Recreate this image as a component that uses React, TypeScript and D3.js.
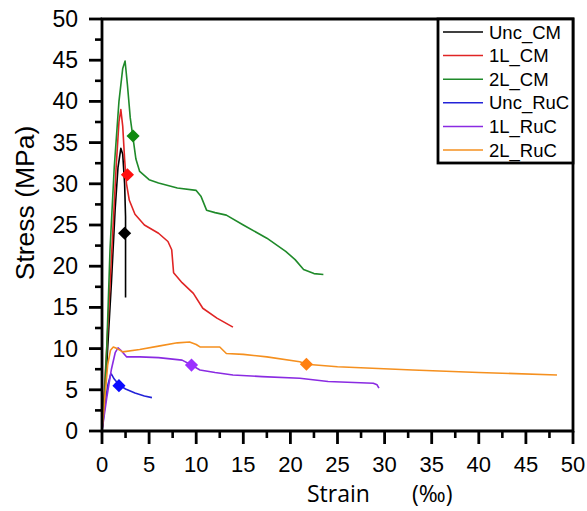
import React from "react";
import * as d3 from "d3";

const width = 587;
const height = 511;
const margin = { top: 19, right: 14, bottom: 80, left: 102 };

type Pt = [number, number];

// strain (‰), stress (MPa)
const uncCM: Pt[] = [[0, 0], [0.5, 8], [1.0, 18], [1.4, 27], [1.7, 32], [2.0, 34.3], [2.2, 33.6], [2.4, 30], [2.5, 26], [2.5, 16.2]];
const oneLCM: Pt[] = [[0, 0], [0.5, 10], [1.0, 21], [1.5, 32], [1.8, 37.5], [2.0, 39], [2.2, 37], [2.4, 33], [2.6, 30], [2.9, 28], [3.5, 26.3], [4.5, 25], [6, 24], [7, 23], [7.4, 22], [7.6, 19.2], [8.5, 18], [9.7, 16.7], [10.7, 14.9], [12.2, 13.7], [13.9, 12.6]];
const twoLCM: Pt[] = [[0, 0], [0.3, 5], [0.5, 10], [0.85, 22], [1.3, 32], [1.8, 40], [2.2, 44], [2.45, 44.9], [2.7, 42], [3.0, 38], [3.3, 35.5], [3.6, 33], [4.0, 31.5], [5.0, 30.5], [6, 30.1], [8, 29.5], [10, 29.2], [10.5, 28.5], [11.1, 26.8], [12, 26.5], [13.2, 26.2], [15, 25], [17.5, 23.4], [19.5, 21.8], [20.5, 20.8], [21.4, 19.6], [22.5, 19.1], [23.5, 19.0]];
const uncRuC: Pt[] = [[0, 0], [0.3, 3], [0.6, 5.5], [0.9, 6.8], [1.0, 6.9], [1.3, 6.3], [1.8, 5.6], [2.5, 5.1], [3.5, 4.6], [4.5, 4.25], [5.3, 4.05]];
const oneLRuC: Pt[] = [[0, 0], [0.5, 4], [1.0, 7.5], [1.4, 9.5], [1.7, 10.1], [2.0, 9.8], [2.6, 9.0], [4, 9.0], [6, 8.9], [8.5, 8.6], [9.5, 8.0], [10.4, 7.4], [12, 7.1], [13.9, 6.8], [17, 6.6], [21, 6.4], [24, 6.0], [28.8, 5.8], [29.2, 5.6], [29.4, 5.2]];
const twoLRuC: Pt[] = [[0, 0], [0.3, 4], [0.6, 8], [0.9, 9.8], [1.2, 10.2], [1.6, 10.0], [2.2, 9.6], [4, 9.9], [6, 10.3], [8, 10.7], [9.3, 10.8], [10.0, 10.5], [10.4, 10.2], [12.5, 10.2], [13.2, 9.4], [15, 9.3], [17.5, 9.0], [21, 8.4], [21.7, 8.1], [25, 7.8], [33, 7.4], [40, 7.1], [48.3, 6.8]];

const names = ["Unc_CM", "1L_CM", "2L_CM", "Unc_RuC", "1L_RuC", "2L_RuC"];
const seriesData = [uncCM, oneLCM, twoLCM, uncRuC, oneLRuC, twoLRuC];
const lineColors = ["#000000", "#e02424", "#1f8a2a", "#2323d8", "#8a2be2", "#f5901f"];
const markerColors = ["#000000", "#ff1010", "#108a10", "#0a0aff", "#9b30ff", "#ff8010"];
// marker positions (strain, stress)
const markers: Pt[] = [[2.4, 24], [2.7, 31.1], [3.3, 35.8], [1.8, 5.5], [9.5, 8.0], [21.7, 8.1]];

const majorTicks = [0, 5, 10, 15, 20, 25, 30, 35, 40, 45, 50];
const minorTicks = [2.5, 7.5, 12.5, 17.5, 22.5, 27.5, 32.5, 37.5, 42.5, 47.5];

export default function App() {
  const x = d3.scaleLinear().domain([0, 50]).range([margin.left, width - margin.right]);
  const y = d3.scaleLinear().domain([0, 50]).range([height - margin.bottom, margin.top]);
  const line = d3.line<Pt>().x((d) => x(d[0])).y((d) => y(d[1]));
  const diamond = d3.symbol().type(d3.symbolDiamond2).size(110);
  const x0 = x(0), x1 = x(50), y0 = y(0), y1 = y(50);
  const font = "Liberation Sans, Arial, sans-serif";

  return (
    <svg width={width} height={height} style={{ position: "absolute", left: 0, top: 0 }}>
      <rect width={width} height={height} fill="#fff" />
      {seriesData.map((s, i) => (
        <path key={names[i]} d={line(s) || ""} fill="none" stroke={lineColors[i]} strokeWidth={1.6} strokeLinejoin="round" />
      ))}
      {markers.map((m, i) => (
        <path key={"m" + i} d={diamond() || ""} transform={`translate(${x(m[0])},${y(m[1])})`} fill={markerColors[i]} />
      ))}
      {/* frame */}
      <path d={`M${x0},${y0}H${x1}V${y1}H${x0}Z`} fill="none" stroke="#000" strokeWidth={2.8} />
      {majorTicks.map((t) => (
        <g key={"mx" + t}>
          <line x1={x(t)} x2={x(t)} y1={y0} y2={y0 + 13} stroke="#000" strokeWidth={2.8} />
          <line x1={x0 - 13} x2={x0} y1={y(t)} y2={y(t)} stroke="#000" strokeWidth={2.8} />
          <text x={x(t)} y={y0 + 41} textAnchor="middle" fontFamily={font} fontSize={22}>{t}</text>
          <text x={x0 - 24} y={y(t) + 8} textAnchor="end" fontFamily={font} fontSize={23}>{t}</text>
        </g>
      ))}
      {minorTicks.map((t) => (
        <g key={"mn" + t}>
          <line x1={x(t)} x2={x(t)} y1={y0} y2={y0 + 7} stroke="#000" strokeWidth={2.6} />
          <line x1={x0 - 7} x2={x0} y1={y(t)} y2={y(t)} stroke="#000" strokeWidth={2.6} />
        </g>
      ))}
      <text transform={`translate(34,203) rotate(-90)`} textAnchor="middle" fontFamily={font} fontSize={26.5}>
        Stress (MPa)
      </text>
      <text x={307} y={502} fontFamily="Open Sans, sans-serif" fontSize={23}>Strain</text>
      <text x={412} y={502} fontFamily="Open Sans, sans-serif" fontSize={23}>(‰)</text>
      {/* legend */}
      <rect x={438} y={y1} width={x1 - 438} height={144} fill="#fff" stroke="#000" strokeWidth={2.8} />
      {names.map((n, i) => (
        <g key={"l" + n} transform={`translate(443,${32 + i * 23.6})`}>
          <line x1={0} x2={40} y1={0} y2={0} stroke={lineColors[i]} strokeWidth={1.5} />
          <text x={46} y={6.5} fontFamily={font} fontSize={18.5}>{n}</text>
        </g>
      ))}
    </svg>
  );
}
